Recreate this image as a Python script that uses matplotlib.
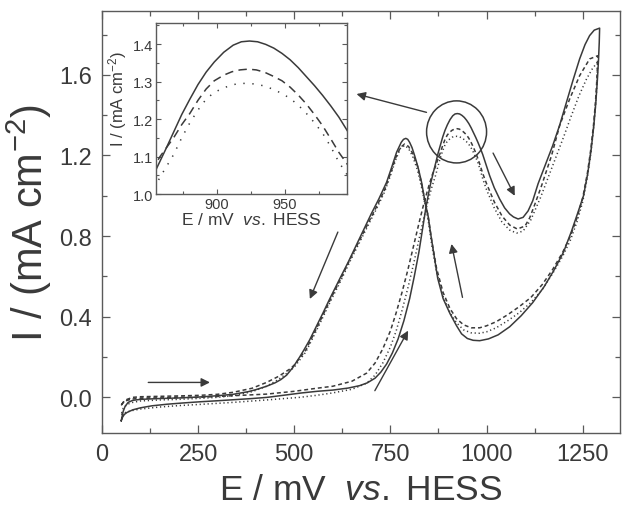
import matplotlib
matplotlib.use("Agg")
import matplotlib.pyplot as plt
from matplotlib.ticker import MultipleLocator
from matplotlib.patches import Ellipse

plt.rcParams['font.family'] = ['Liberation Sans', 'DejaVu Sans']
plt.rcParams['mathtext.fontset'] = 'custom'
plt.rcParams['mathtext.rm'] = 'Liberation Sans'
plt.rcParams['mathtext.it'] = 'Liberation Sans:italic'

# ---- cyclic voltammograms: potential E (mV vs. HESS) and current I (mA cm^-2)
# cycle 1 (solid) - anodic sweep
e1_fwd = [50, 53, 58, 65, 80, 100, 130, 170, 210, 255, 300, 340, 390, 430, 480,
          520, 560, 600, 640, 670, 690, 710, 725, 740, 755, 770, 785, 800, 812,
          824, 834, 843, 849, 855, 862, 868, 874, 880, 886, 892, 898, 905, 912,
          918, 924, 930, 936, 942, 948, 954, 960, 966, 972, 978, 984, 990, 996,
          1008, 1020, 1034, 1047, 1060, 1070, 1082, 1095, 1108, 1120, 1134,
          1150, 1172, 1190, 1208, 1225, 1242, 1256, 1268, 1280, 1294]
i1_fwd = [-0.116, -0.100, -0.085, -0.075, -0.062, -0.052, -0.042, -0.034,
          -0.028, -0.022, -0.017, -0.012, -0.006, 0.000, 0.012, 0.022, 0.030,
          0.036, 0.046, 0.058, 0.072, 0.095, 0.125, 0.165, 0.220, 0.290, 0.380,
          0.490, 0.600, 0.720, 0.840, 0.950, 1.010, 1.065, 1.118, 1.165, 1.212,
          1.253, 1.292, 1.325, 1.352, 1.378, 1.397, 1.406, 1.408, 1.406, 1.399,
          1.389, 1.375, 1.358, 1.337, 1.313, 1.289, 1.263, 1.235, 1.205, 1.170,
          1.100, 1.040, 0.984, 0.940, 0.910, 0.895, 0.885, 0.893, 0.925, 0.975,
          1.060, 1.140, 1.249, 1.350, 1.465, 1.575, 1.679, 1.750, 1.795, 1.822,
          1.832]
# cycle 1 (solid) - cathodic sweep
e1_rev = [1294, 1293, 1291, 1288, 1284, 1279, 1272, 1263, 1252, 1238, 1221,
          1200, 1175, 1150, 1120, 1090, 1060, 1030, 1005, 982, 965, 950, 935,
          922, 905, 887, 873, 861, 854, 848, 841, 831, 822, 813, 806, 800, 795,
          790, 784, 778, 766, 753, 740, 720, 700, 680, 660, 640, 620, 592, 575,
          558, 540, 525, 514, 497, 480, 465, 450, 428, 400, 380, 341, 300, 255,
          200, 150, 100, 80, 68, 60, 55, 50]
i1_rev = [1.832, 1.760, 1.670, 1.570, 1.460, 1.350, 1.230, 1.110, 1.000, 0.920,
          0.825, 0.720, 0.630, 0.550, 0.470, 0.405, 0.350, 0.310, 0.290, 0.281,
          0.283, 0.292, 0.315, 0.355, 0.415, 0.490, 0.590, 0.736, 0.820, 0.900,
          0.960, 1.067, 1.140, 1.199, 1.240, 1.265, 1.280, 1.285, 1.280, 1.265,
          1.216, 1.140, 1.067, 0.985, 0.910, 0.830, 0.750, 0.670, 0.595, 0.488,
          0.420, 0.355, 0.285, 0.235, 0.200, 0.150, 0.110, 0.088, 0.072, 0.055,
          0.038, 0.028, 0.015, 0.008, 0.002, -0.003, -0.006, -0.010, -0.015,
          -0.025, -0.045, -0.070, -0.116]

# cycle 2 (dashed) - anodic sweep
e2_fwd = [50, 55, 65, 80, 100, 150, 200, 255, 340, 428, 500, 558, 600, 650,
          688, 710, 730, 750, 765, 780, 795, 810, 825, 838, 850, 858, 868, 874,
          880, 886, 892, 898, 905, 911, 917, 923, 929, 935, 941, 948, 954, 960,
          966, 972, 978, 984, 990, 1000, 1020, 1040, 1060, 1080, 1100, 1112,
          1125, 1143, 1169, 1190, 1216, 1242, 1268, 1289]
i2_fwd = [-0.040, -0.025, -0.015, -0.008, -0.005, -0.003, -0.001, 0.000, 0.008,
          0.016, 0.030, 0.045, 0.055, 0.080, 0.120, 0.170, 0.240, 0.330, 0.420,
          0.520, 0.630, 0.750, 0.870, 0.970, 1.050, 1.100, 1.150, 1.185, 1.215,
          1.250, 1.280, 1.302, 1.317, 1.326, 1.331, 1.333, 1.331, 1.325, 1.315,
          1.302, 1.285, 1.264, 1.240, 1.212, 1.182, 1.147, 1.111, 1.060, 0.970,
          0.900, 0.855, 0.835, 0.850, 0.890, 0.955, 1.050, 1.200, 1.348, 1.480,
          1.596, 1.679, 1.695]
# cycle 2 (dashed) - cathodic sweep
e2_rev = [1289, 1288, 1286, 1283, 1278, 1271, 1262, 1250, 1235, 1218, 1198,
          1172, 1145, 1115, 1085, 1055, 1025, 1000, 982, 960, 940, 922, 905,
          887, 870, 858, 848, 840, 830, 820, 808, 797, 787, 776, 764, 750, 735,
          715, 695, 670, 645, 620, 595, 565, 530, 500, 488, 460, 428, 390, 341,
          300, 255, 200, 150, 100, 80, 65, 55, 50]
i2_rev = [1.695, 1.630, 1.550, 1.460, 1.350, 1.230, 1.110, 0.990, 0.890, 0.800,
          0.720, 0.635, 0.560, 0.495, 0.450, 0.410, 0.375, 0.355, 0.345, 0.345,
          0.360, 0.390, 0.440, 0.520, 0.640, 0.770, 0.900, 0.970, 1.070, 1.150,
          1.210, 1.245, 1.257, 1.240, 1.190, 1.110, 1.030, 0.950, 0.875, 0.780,
          0.685, 0.585, 0.490, 0.370, 0.235, 0.160, 0.140, 0.105, 0.074, 0.045,
          0.025, 0.015, 0.010, 0.007, 0.005, 0.003, 0.000, -0.010, -0.025,
          -0.040]

# cycle 3 (dotted) - anodic sweep
e3_fwd = [50, 55, 65, 80, 100, 150, 200, 255, 341, 428, 514, 558, 600, 650,
          688, 710, 730, 750, 765, 780, 795, 810, 825, 838, 850, 858, 868, 874,
          880, 886, 892, 898, 905, 911, 917, 923, 929, 935, 941, 948, 954, 960,
          966, 972, 978, 984, 990, 1000, 1020, 1040, 1060, 1078, 1095, 1115,
          1140, 1160, 1180, 1200, 1220, 1240, 1260, 1275, 1289]
i3_fwd = [-0.085, -0.080, -0.072, -0.065, -0.058, -0.048, -0.041, -0.035,
          -0.025, -0.013, 0.000, 0.010, 0.022, 0.040, 0.070, 0.110, 0.170,
          0.250, 0.330, 0.430, 0.540, 0.660, 0.790, 0.900, 0.990, 1.045, 1.105,
          1.150, 1.190, 1.224, 1.253, 1.271, 1.283, 1.291, 1.295, 1.295, 1.293,
          1.288, 1.280, 1.268, 1.255, 1.237, 1.215, 1.190, 1.162, 1.126, 1.085,
          1.030, 0.940, 0.870, 0.830, 0.815, 0.825, 0.880, 0.990, 1.090, 1.190,
          1.290, 1.395, 1.495, 1.580, 1.630, 1.665]
# cycle 3 (dotted) - cathodic sweep
e3_rev = [1289, 1288, 1286, 1283, 1278, 1271, 1262, 1250, 1235, 1218, 1198,
          1172, 1145, 1115, 1085, 1055, 1025, 1000, 982, 960, 940, 922, 905,
          887, 870, 858, 848, 840, 830, 820, 808, 797, 787, 776, 764, 750, 735,
          715, 695, 670, 645, 620, 595, 565, 530, 500, 488, 460, 428, 390, 341,
          300, 255, 200, 150, 100, 80, 65, 55, 50]
i3_rev = [1.665, 1.600, 1.520, 1.440, 1.330, 1.210, 1.090, 0.970, 0.870, 0.780,
          0.700, 0.615, 0.535, 0.470, 0.420, 0.380, 0.345, 0.325, 0.318, 0.320,
          0.335, 0.370, 0.420, 0.500, 0.620, 0.750, 0.880, 0.960, 1.050, 1.130,
          1.195, 1.235, 1.250, 1.235, 1.180, 1.100, 1.020, 0.940, 0.865, 0.770,
          0.675, 0.575, 0.480, 0.360, 0.225, 0.150, 0.130, 0.090, 0.055, 0.028,
          0.008, 0.000, -0.005, -0.010, -0.013, -0.018, -0.025, -0.035, -0.055,
          -0.085]

x_ticks = [0, 250, 500, 750, 1000, 1250]
y_ticks = [0.0, 0.4, 0.8, 1.2, 1.6]
inset_x_ticks = [900, 950]
inset_y_ticks = [1.0, 1.1, 1.2, 1.3, 1.4]

LINE = '#3a3a3a'
AXC = '#5a5a5a'
TXT = '#3a3a3a'

fig = plt.figure(figsize=(6.22, 5.10), dpi=100)
ax = fig.add_axes([0.164, 0.149, 0.8328, 0.8275])


def draw_cycles(a, lw, dash, dot):
    a.plot(e1_fwd + e1_rev, i1_fwd + i1_rev, color=LINE, lw=lw, ls='-')
    a.plot(e2_fwd + e2_rev, i2_fwd + i2_rev, color=LINE, lw=lw, ls=(0, dash))
    a.plot(e3_fwd + e3_rev, i3_fwd + i3_rev, color=LINE, lw=lw, ls=(0, dot))


draw_cycles(ax, 1.1, (2.6, 1.9), (0.8, 1.8))

ax.set_xlim(0, 1347)
ax.set_ylim(-0.177, 1.917)
ax.set_xticks(x_ticks)
ax.set_yticks(y_ticks)
ax.set_yticklabels([f'{v:.1f}' for v in y_ticks])
ax.xaxis.set_minor_locator(MultipleLocator(125))
ax.yaxis.set_minor_locator(MultipleLocator(0.2))
ax.tick_params(which='both', direction='in', top=True, right=True,
               color=AXC, width=0.9, labelcolor=TXT, labelsize=17, pad=7)
ax.tick_params(which='major', length=6)
ax.tick_params(which='minor', length=3.5)
for s in ax.spines.values():
    s.set_color(AXC)
    s.set_linewidth(1.0)
ax.set_xlabel(r'E / mV  $\mathit{vs.}$ HESS', fontsize=25.5, color=TXT, labelpad=6)
ax.set_ylabel(r'I / (mA cm$^{\mathregular{-2}}$)', fontsize=30, color=TXT, labelpad=4)

# circle marking the zoomed peak region
ax.add_patch(Ellipse((922, 1.317), 156, 0.308, fill=False, ec=LINE, lw=1.1))

arrow_kw = dict(arrowstyle='-|>', color=LINE, lw=1.0, mutation_scale=13,
                shrinkA=0, shrinkB=0)
arrows = [((843.8, 1.414), (661.9, 1.505)),
          ((1016.9, 1.212), (1073.3, 1.000)),
          ((937.4, 0.496), (908.8, 0.761)),
          ((709.5, 0.033), (796.0, 0.331)),
          ((613.3, 0.820), (540.5, 0.488)),
          ((120.3, 0.074), (280.7, 0.074))]
for tail, head in arrows:
    ax.annotate('', xy=head, xytext=tail, arrowprops=arrow_kw)

# inset: magnified anodic peak
ins = fig.add_axes([0.2508, 0.6176, 0.3071, 0.3353])
ins.set_facecolor('white')
draw_cycles(ins, 1.1, (5.5, 3.5), (0.9, 5.0))
ins.set_xlim(855, 996)
ins.set_ylim(1.0, 1.456)
ins.set_xticks(inset_x_ticks)
ins.set_yticks(inset_y_ticks)
ins.set_yticklabels([f'{v:.1f}' for v in inset_y_ticks])
ins.xaxis.set_minor_locator(MultipleLocator(25))
ins.yaxis.set_minor_locator(MultipleLocator(0.05))
ins.tick_params(which='both', direction='in', top=True, right=True,
                color=AXC, width=0.8, labelcolor=TXT, labelsize=10.5, pad=2)
ins.tick_params(which='major', length=3.5)
ins.tick_params(which='minor', length=2.5)
for s in ins.spines.values():
    s.set_color(AXC)
    s.set_linewidth(1.0)
ins.set_xlabel(r'E / mV  $\mathit{vs.}$ HESS', fontsize=12.5, color=TXT, labelpad=0)
ins.set_ylabel(r'I / (mA cm$^{\mathregular{-2}}$)', fontsize=12, color=TXT, labelpad=2)
ins.yaxis.set_label_coords(-0.14, 0.56)

fig.savefig('out.png', dpi=100, facecolor='white')
